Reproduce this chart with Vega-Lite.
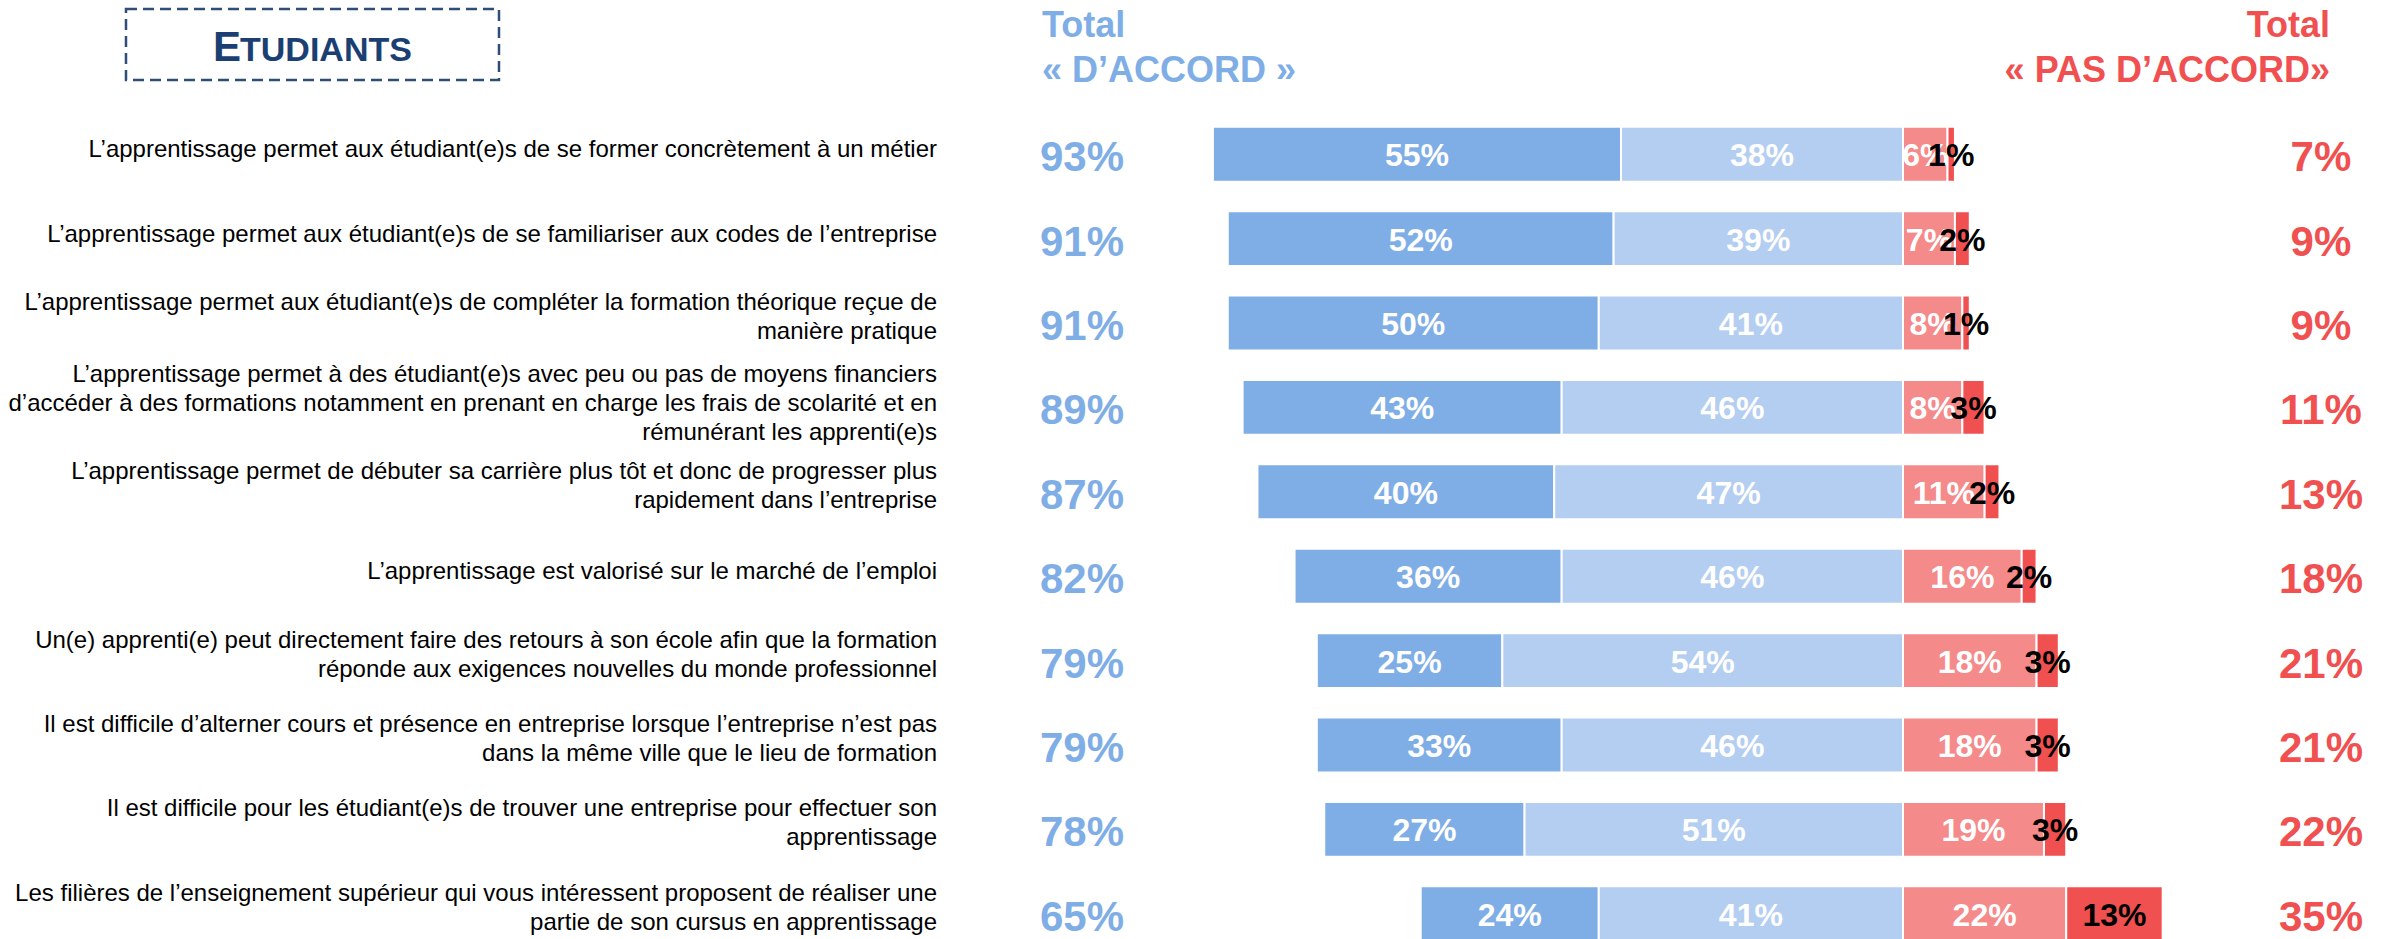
{
  "$schema": "https://vega.github.io/schema/vega-lite/v6.json",
  "padding": 0,
  "spacing": 0,
  "background": "white",
  "config": {"view": {"stroke": null}, "font": "Liberation Sans", "text": {"font": "Liberation Sans"}},
  "datasets": {
    "header": [
      {"part": "box", "label": ""},
      {"part": "accord", "label": "Total\n« D’ACCORD »"},
      {"part": "pas", "label": "Total\n« PAS D’ACCORD»"},
      {"part": "initial", "label": "E"},
      {"part": "rest", "label": "TUDIANTS"}
    ],
    "questions": [
      {"qid": "Q1", "question": "L’apprentissage permet aux étudiant(e)s de se former concrètement à un métier", "totalAccord": 0.93, "totalPas": 0.07},
      {"qid": "Q2", "question": "L’apprentissage permet aux étudiant(e)s de se familiariser aux codes de l’entreprise", "totalAccord": 0.91, "totalPas": 0.09},
      {"qid": "Q3", "question": "L’apprentissage permet aux étudiant(e)s de compléter la formation théorique reçue de\nmanière pratique", "totalAccord": 0.91, "totalPas": 0.09},
      {"qid": "Q4", "question": "L’apprentissage permet à des étudiant(e)s avec peu ou pas de moyens financiers\nd’accéder à des formations notamment en prenant en charge les frais de scolarité et en\nrémunérant les apprenti(e)s", "totalAccord": 0.89, "totalPas": 0.11},
      {"qid": "Q5", "question": "L’apprentissage permet de débuter sa carrière plus tôt et donc de progresser plus\nrapidement dans l’entreprise", "totalAccord": 0.87, "totalPas": 0.13},
      {"qid": "Q6", "question": "L’apprentissage est valorisé sur le marché de l’emploi", "totalAccord": 0.82, "totalPas": 0.18},
      {"qid": "Q7", "question": "Un(e) apprenti(e) peut directement faire des retours à son école afin que la formation\nréponde aux exigences nouvelles du monde professionnel", "totalAccord": 0.79, "totalPas": 0.21},
      {"qid": "Q8", "question": "Il est difficile d’alterner cours et présence en entreprise lorsque l’entreprise n’est pas\ndans la même ville que le lieu de formation", "totalAccord": 0.79, "totalPas": 0.21},
      {"qid": "Q9", "question": "Il est difficile pour les étudiant(e)s de trouver une entreprise pour effectuer son\napprentissage", "totalAccord": 0.78, "totalPas": 0.22},
      {"qid": "Q10", "question": "Les filières de l’enseignement supérieur qui vous intéressent proposent de réaliser une\npartie de son cursus en apprentissage", "totalAccord": 0.65, "totalPas": 0.35}
    ],
    "segments": [
      {"qid": "Q1", "side": "accord", "cat": "Tout à fait d’accord", "v": 0.55},
      {"qid": "Q1", "side": "accord", "cat": "Plutôt d’accord", "v": 0.38},
      {"qid": "Q1", "side": "pas", "cat": "Plutôt pas d’accord", "v": 0.06},
      {"qid": "Q1", "side": "pas", "cat": "Pas du tout d’accord", "v": 0.01},
      {"qid": "Q2", "side": "accord", "cat": "Tout à fait d’accord", "v": 0.52},
      {"qid": "Q2", "side": "accord", "cat": "Plutôt d’accord", "v": 0.39},
      {"qid": "Q2", "side": "pas", "cat": "Plutôt pas d’accord", "v": 0.07},
      {"qid": "Q2", "side": "pas", "cat": "Pas du tout d’accord", "v": 0.02},
      {"qid": "Q3", "side": "accord", "cat": "Tout à fait d’accord", "v": 0.50},
      {"qid": "Q3", "side": "accord", "cat": "Plutôt d’accord", "v": 0.41},
      {"qid": "Q3", "side": "pas", "cat": "Plutôt pas d’accord", "v": 0.08},
      {"qid": "Q3", "side": "pas", "cat": "Pas du tout d’accord", "v": 0.01},
      {"qid": "Q4", "side": "accord", "cat": "Tout à fait d’accord", "v": 0.43},
      {"qid": "Q4", "side": "accord", "cat": "Plutôt d’accord", "v": 0.46},
      {"qid": "Q4", "side": "pas", "cat": "Plutôt pas d’accord", "v": 0.08},
      {"qid": "Q4", "side": "pas", "cat": "Pas du tout d’accord", "v": 0.03},
      {"qid": "Q5", "side": "accord", "cat": "Tout à fait d’accord", "v": 0.40},
      {"qid": "Q5", "side": "accord", "cat": "Plutôt d’accord", "v": 0.47},
      {"qid": "Q5", "side": "pas", "cat": "Plutôt pas d’accord", "v": 0.11},
      {"qid": "Q5", "side": "pas", "cat": "Pas du tout d’accord", "v": 0.02},
      {"qid": "Q6", "side": "accord", "cat": "Tout à fait d’accord", "v": 0.36},
      {"qid": "Q6", "side": "accord", "cat": "Plutôt d’accord", "v": 0.46},
      {"qid": "Q6", "side": "pas", "cat": "Plutôt pas d’accord", "v": 0.16},
      {"qid": "Q6", "side": "pas", "cat": "Pas du tout d’accord", "v": 0.02},
      {"qid": "Q7", "side": "accord", "cat": "Tout à fait d’accord", "v": 0.25},
      {"qid": "Q7", "side": "accord", "cat": "Plutôt d’accord", "v": 0.54},
      {"qid": "Q7", "side": "pas", "cat": "Plutôt pas d’accord", "v": 0.18},
      {"qid": "Q7", "side": "pas", "cat": "Pas du tout d’accord", "v": 0.03},
      {"qid": "Q8", "side": "accord", "cat": "Tout à fait d’accord", "v": 0.33},
      {"qid": "Q8", "side": "accord", "cat": "Plutôt d’accord", "v": 0.46},
      {"qid": "Q8", "side": "pas", "cat": "Plutôt pas d’accord", "v": 0.18},
      {"qid": "Q8", "side": "pas", "cat": "Pas du tout d’accord", "v": 0.03},
      {"qid": "Q9", "side": "accord", "cat": "Tout à fait d’accord", "v": 0.27},
      {"qid": "Q9", "side": "accord", "cat": "Plutôt d’accord", "v": 0.51},
      {"qid": "Q9", "side": "pas", "cat": "Plutôt pas d’accord", "v": 0.19},
      {"qid": "Q9", "side": "pas", "cat": "Pas du tout d’accord", "v": 0.03},
      {"qid": "Q10", "side": "accord", "cat": "Tout à fait d’accord", "v": 0.24},
      {"qid": "Q10", "side": "accord", "cat": "Plutôt d’accord", "v": 0.41},
      {"qid": "Q10", "side": "pas", "cat": "Plutôt pas d’accord", "v": 0.22},
      {"qid": "Q10", "side": "pas", "cat": "Pas du tout d’accord", "v": 0.13}
    ]
  },
  "vconcat": [
    {
      "width": 2387,
      "height": 112,
      "data": {"name": "header"},
      "layer": [
        {
          "transform": [{"filter": "datum.part === 'box'"}],
          "mark": {"type": "rect", "fill": "white", "stroke": "#2E4D78", "strokeWidth": 2.5, "strokeDash": [11, 6]},
          "encoding": {
            "x": {"datum": -2.3949, "type": "quantitative", "scale": {"domain": [-2.5647, 0.6523], "nice": false, "zero": false}, "axis": null},
            "x2": {"datum": -1.8922},
            "y": {"datum": 0.0804, "type": "quantitative", "scale": {"domain": [0, 1], "reverse": true, "nice": false, "zero": false}, "axis": null},
            "y2": {"datum": 0.7143}
          }
        },
        {
          "transform": [{"filter": "datum.part === 'initial'"}],
          "mark": {"type": "text", "fontSize": 42, "fontWeight": "bold", "align": "left", "baseline": "alphabetic", "color": "#1B3F73"},
          "encoding": {
            "text": {"field": "label"},
            "x": {"datum": -2.2776, "type": "quantitative", "scale": {"domain": [-2.5647, 0.6523], "nice": false, "zero": false}, "axis": null},
            "y": {"datum": 0.5446, "type": "quantitative", "scale": {"domain": [0, 1], "reverse": true, "nice": false, "zero": false}, "axis": null}
          }
        },
        {
          "transform": [{"filter": "datum.part === 'rest'"}],
          "mark": {"type": "text", "fontSize": 34, "fontWeight": "bold", "align": "left", "baseline": "alphabetic", "color": "#1B3F73"},
          "encoding": {
            "text": {"field": "label"},
            "x": {"datum": -2.2412, "type": "quantitative", "scale": {"domain": [-2.5647, 0.6523], "nice": false, "zero": false}, "axis": null},
            "y": {"datum": 0.5446, "type": "quantitative", "scale": {"domain": [0, 1], "reverse": true, "nice": false, "zero": false}, "axis": null}
          }
        },
        {
          "transform": [{"filter": "datum.part === 'accord'"}],
          "mark": {"type": "text", "fontSize": 36, "fontWeight": "bold", "align": "left", "baseline": "middle", "lineBreak": "\n", "lineHeight": 45, "color": "#7FAEE6"},
          "encoding": {
            "text": {"field": "label"},
            "x": {"datum": -1.1604, "type": "quantitative", "scale": {"domain": [-2.5647, 0.6523], "nice": false, "zero": false}, "axis": null},
            "y": {"datum": 0.228, "type": "quantitative", "scale": {"domain": [0, 1], "reverse": true, "nice": false, "zero": false}, "axis": null}
          }
        },
        {
          "transform": [{"filter": "datum.part === 'pas'"}],
          "mark": {"type": "text", "fontSize": 36, "fontWeight": "bold", "align": "right", "baseline": "middle", "lineBreak": "\n", "lineHeight": 45, "color": "#F05050"},
          "encoding": {
            "text": {"field": "label"},
            "x": {"datum": 0.5755, "type": "quantitative", "scale": {"domain": [-2.5647, 0.6523], "nice": false, "zero": false}, "axis": null},
            "y": {"datum": 0.228, "type": "quantitative", "scale": {"domain": [0, 1], "reverse": true, "nice": false, "zero": false}, "axis": null}
          }
        }
      ]
    },
    {
      "width": 2387,
      "height": 844,
      "resolve": {"scale": {"x": "independent"}},
      "layer": [
        {
          "data": {"name": "segments"},
          "transform": [{"filter": "datum.side === 'accord'"}],
          "mark": {"type": "bar", "stroke": "white", "strokeWidth": 2},
          "encoding": {
            "y": {"field": "qid", "type": "nominal", "sort": null, "scale": {"domain": ["Q1", "Q2", "Q3", "Q4", "Q5", "Q6", "Q7", "Q8", "Q9", "Q10"], "paddingInner": 0.35, "paddingOuter": 0.175}, "axis": null},
            "x": {"field": "v", "type": "quantitative", "stack": "zero", "scale": {"domain": [-0.6523, 2.5647], "reverse": true, "nice": false, "zero": false}, "axis": null},
            "color": {"field": "cat", "type": "nominal", "scale": {"domain": ["Tout à fait d’accord", "Plutôt d’accord", "Plutôt pas d’accord", "Pas du tout d’accord"], "range": ["#7FAEE6", "#B4CEF1", "#F58A8A", "#F05050"]}, "legend": null},
            "order": {"field": "cat", "sort": "ascending"}
          }
        },
        {
          "data": {"name": "segments"},
          "transform": [{"filter": "datum.side === 'accord'"}],
          "mark": {"type": "text", "fontSize": 32, "fontWeight": "bold", "baseline": "middle", "align": "center", "color": "white", "dy": 2},
          "encoding": {
            "y": {"field": "qid", "type": "nominal", "sort": null, "scale": {"domain": ["Q1", "Q2", "Q3", "Q4", "Q5", "Q6", "Q7", "Q8", "Q9", "Q10"], "paddingInner": 0.35, "paddingOuter": 0.175}, "axis": null},
            "x": {"field": "v", "type": "quantitative", "stack": "zero", "bandPosition": 0.5, "scale": {"domain": [-0.6523, 2.5647], "reverse": true, "nice": false, "zero": false}, "axis": null},
            "detail": {"field": "cat"},
            "order": {"field": "cat", "sort": "ascending"},
            "text": {"field": "v", "type": "quantitative", "format": ".0%"}
          }
        },
        {
          "data": {"name": "segments"},
          "transform": [{"filter": "datum.side === 'pas'"}],
          "mark": {"type": "bar", "stroke": "white", "strokeWidth": 2},
          "encoding": {
            "y": {"field": "qid", "type": "nominal", "sort": null, "scale": {"domain": ["Q1", "Q2", "Q3", "Q4", "Q5", "Q6", "Q7", "Q8", "Q9", "Q10"], "paddingInner": 0.35, "paddingOuter": 0.175}, "axis": null},
            "x": {"field": "v", "type": "quantitative", "stack": "zero", "scale": {"domain": [-2.5647, 0.6523], "nice": false, "zero": false}, "axis": null},
            "color": {"field": "cat", "type": "nominal", "scale": {"domain": ["Tout à fait d’accord", "Plutôt d’accord", "Plutôt pas d’accord", "Pas du tout d’accord"], "range": ["#7FAEE6", "#B4CEF1", "#F58A8A", "#F05050"]}, "legend": null},
            "order": {"field": "cat", "sort": "descending"}
          }
        },
        {
          "data": {"name": "segments"},
          "transform": [{"filter": "datum.side === 'pas'"}],
          "mark": {"type": "text", "fontSize": 32, "fontWeight": "bold", "baseline": "middle", "align": "center", "dy": 2},
          "encoding": {
            "y": {"field": "qid", "type": "nominal", "sort": null, "scale": {"domain": ["Q1", "Q2", "Q3", "Q4", "Q5", "Q6", "Q7", "Q8", "Q9", "Q10"], "paddingInner": 0.35, "paddingOuter": 0.175}, "axis": null},
            "x": {"field": "v", "type": "quantitative", "stack": "zero", "bandPosition": 0.5, "scale": {"domain": [-2.5647, 0.6523], "nice": false, "zero": false}, "axis": null},
            "detail": {"field": "cat"},
            "order": {"field": "cat", "sort": "descending"},
            "color": {"condition": {"test": "datum.cat === 'Pas du tout d’accord'", "value": "black"}, "value": "white"},
            "text": {"field": "v", "type": "quantitative", "format": ".0%"}
          }
        },
        {
          "data": {"name": "questions"},
          "transform": [{"filter": "split(datum.question, '\\n').length === 1"}],
          "mark": {"type": "text", "fontSize": 24, "align": "right", "baseline": "middle", "lineBreak": "\n", "lineHeight": 29, "color": "black", "dy": -4},
          "encoding": {
            "y": {"field": "qid", "type": "nominal", "sort": null, "scale": {"domain": ["Q1", "Q2", "Q3", "Q4", "Q5", "Q6", "Q7", "Q8", "Q9", "Q10"], "paddingInner": 0.35, "paddingOuter": 0.175}, "axis": null},
            "x": {"datum": -1.3019, "type": "quantitative", "scale": {"domain": [-2.5647, 0.6523], "nice": false, "zero": false}, "axis": null},
            "text": {"field": "question"}
          }
        },
        {
          "data": {"name": "questions"},
          "transform": [{"filter": "split(datum.question, '\\n').length === 2"}],
          "mark": {"type": "text", "fontSize": 24, "align": "right", "baseline": "middle", "lineBreak": "\n", "lineHeight": 29, "color": "black", "dy": -20},
          "encoding": {
            "y": {"field": "qid", "type": "nominal", "sort": null, "scale": {"domain": ["Q1", "Q2", "Q3", "Q4", "Q5", "Q6", "Q7", "Q8", "Q9", "Q10"], "paddingInner": 0.35, "paddingOuter": 0.175}, "axis": null},
            "x": {"datum": -1.3019, "type": "quantitative", "scale": {"domain": [-2.5647, 0.6523], "nice": false, "zero": false}, "axis": null},
            "text": {"field": "question"}
          }
        },
        {
          "data": {"name": "questions"},
          "transform": [{"filter": "split(datum.question, '\\n').length === 3"}],
          "mark": {"type": "text", "fontSize": 24, "align": "right", "baseline": "middle", "lineBreak": "\n", "lineHeight": 29, "color": "black", "dy": -32},
          "encoding": {
            "y": {"field": "qid", "type": "nominal", "sort": null, "scale": {"domain": ["Q1", "Q2", "Q3", "Q4", "Q5", "Q6", "Q7", "Q8", "Q9", "Q10"], "paddingInner": 0.35, "paddingOuter": 0.175}, "axis": null},
            "x": {"datum": -1.3019, "type": "quantitative", "scale": {"domain": [-2.5647, 0.6523], "nice": false, "zero": false}, "axis": null},
            "text": {"field": "question"}
          }
        },
        {
          "data": {"name": "questions"},
          "mark": {"type": "text", "fontSize": 42, "fontWeight": "bold", "align": "center", "baseline": "middle", "color": "#7FAEE6", "dy": 4},
          "encoding": {
            "y": {"field": "qid", "type": "nominal", "sort": null, "scale": {"domain": ["Q1", "Q2", "Q3", "Q4", "Q5", "Q6", "Q7", "Q8", "Q9", "Q10"], "paddingInner": 0.35, "paddingOuter": 0.175}, "axis": null},
            "x": {"datum": -1.1065, "type": "quantitative", "scale": {"domain": [-2.5647, 0.6523], "nice": false, "zero": false}, "axis": null},
            "text": {"field": "totalAccord", "type": "quantitative", "format": ".0%"}
          }
        },
        {
          "data": {"name": "questions"},
          "mark": {"type": "text", "fontSize": 42, "fontWeight": "bold", "align": "center", "baseline": "middle", "color": "#F05050", "dy": 4},
          "encoding": {
            "y": {"field": "qid", "type": "nominal", "sort": null, "scale": {"domain": ["Q1", "Q2", "Q3", "Q4", "Q5", "Q6", "Q7", "Q8", "Q9", "Q10"], "paddingInner": 0.35, "paddingOuter": 0.175}, "axis": null},
            "x": {"datum": 0.5633, "type": "quantitative", "scale": {"domain": [-2.5647, 0.6523], "nice": false, "zero": false}, "axis": null},
            "text": {"field": "totalPas", "type": "quantitative", "format": ".0%"}
          }
        }
      ]
    }
  ]
}
